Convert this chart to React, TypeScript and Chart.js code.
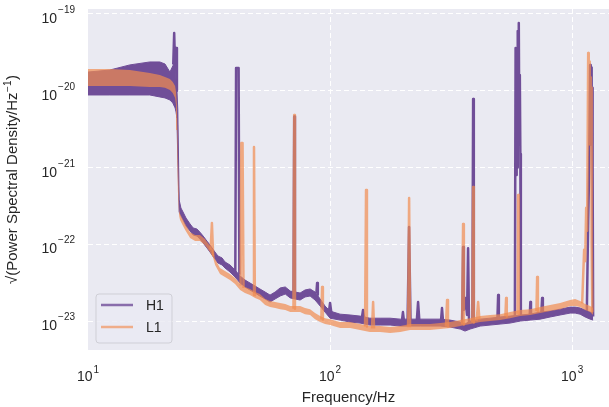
import { useEffect, useRef } from "react";
import { Chart, registerables } from "chart.js";

Chart.register(...registerables);

// ---------- data (Hz, strain/sqrt(Hz)) ----------
const H1_BAND_FREQ = [10, 12.3, 14.9, 18.0, 19.8, 20.8, 21.8, 22.4, 22.9, 23.1, 23.3, 23.5, 23.8, 24.2, 24.7, 25.4, 26.4, 27.2, 28.2, 29.0, 29.9, 31.0, 31.9, 33.2, 34.4, 35.8, 36.8, 38.6, 40.5, 42.5, 44.5, 46.7, 49.0, 51.3, 53.9, 56.5, 59.3, 62.2, 65.3, 68.5, 75.2, 78.8, 82.7, 86.7, 91.0, 95.3, 100, 110, 121, 133, 146, 161, 177, 195, 214, 236, 259, 285, 313, 345, 361, 379, 417, 458, 504, 554, 610, 671, 738, 811, 892, 981, 1029, 1079, 1132, 1187, 1221];
const H1_BAND_UPPER = [1.75e-20, 1.86e-20, 2.17e-20, 2.37e-20, 2.37e-20, 2.23e-20, 1.75e-20, 2.10e-20, 2.37e-20, 1.38e-20, 1.02e-20, 5.62e-21, 3.78e-22, 2.97e-22, 2.63e-22, 2.20e-22, 1.84e-22, 1.63e-22, 1.58e-22, 1.44e-22, 1.28e-22, 1.10e-22, 9.82e-23, 8.20e-23, 7.05e-23, 6.64e-23, 5.89e-23, 5.38e-23, 4.63e-23, 3.86e-23, 3.43e-23, 3.13e-23, 2.86e-23, 2.62e-23, 2.39e-23, 2.18e-23, 2.39e-23, 2.70e-23, 2.78e-23, 2.46e-23, 2.32e-23, 2.54e-23, 2.62e-23, 2.39e-23, 1.94e-23, 1.57e-23, 1.35e-23, 1.23e-23, 1.20e-23, 1.16e-23, 1.09e-23, 1.09e-23, 1.09e-23, 1.06e-23, 1.06e-23, 1.06e-23, 1.06e-23, 1.06e-23, 1.03e-23, 9.70e-24, 9.14e-24, 1.00e-23, 1.06e-23, 1.09e-23, 1.13e-23, 1.16e-23, 1.20e-23, 1.23e-23, 1.31e-23, 1.35e-23, 1.43e-23, 1.52e-23, 1.52e-23, 1.48e-23, 1.39e-23, 1.31e-23, 1.27e-23];
const H1_BAND_LOWER = [8.81e-21, 8.81e-21, 8.81e-21, 8.81e-21, 8.30e-21, 8.06e-21, 7.58e-21, 6.93e-21, 5.97e-21, 5.30e-21, 4.42e-21, 1.25e-21, 2.63e-22, 2.34e-22, 2.07e-22, 1.73e-22, 1.49e-22, 1.32e-22, 1.28e-22, 1.17e-22, 1.04e-22, 8.97e-23, 7.95e-23, 6.64e-23, 5.71e-23, 5.38e-23, 4.91e-23, 4.36e-23, 3.75e-23, 3.13e-23, 2.78e-23, 2.54e-23, 2.32e-23, 2.12e-23, 1.94e-23, 1.77e-23, 1.94e-23, 2.12e-23, 2.25e-23, 2.00e-23, 1.88e-23, 2.06e-23, 2.12e-23, 1.88e-23, 1.57e-23, 1.31e-23, 1.09e-23, 1.03e-23, 9.70e-24, 9.42e-24, 8.87e-24, 8.87e-24, 8.87e-24, 8.61e-24, 8.61e-24, 8.61e-24, 8.61e-24, 8.61e-24, 8.36e-24, 7.87e-24, 7.41e-24, 7.87e-24, 8.61e-24, 8.87e-24, 9.14e-24, 9.42e-24, 1.00e-23, 1.03e-23, 1.06e-23, 1.13e-23, 1.20e-23, 1.27e-23, 1.27e-23, 1.23e-23, 1.13e-23, 1.06e-23, 1.03e-23];

const L1_BAND_FREQ = [10, 12.3, 14.9, 18.0, 19.8, 20.8, 21.8, 22.4, 22.9, 23.1, 23.3, 23.5, 23.8, 24.0, 24.7, 25.2, 26.4, 27.7, 29.0, 30.4, 31.9, 32.8, 33.5, 35.1, 36.8, 38.6, 40.5, 42.5, 44.5, 46.7, 49.0, 51.3, 53.9, 56.5, 59.3, 62.2, 65.3, 68.5, 75.2, 78.8, 82.7, 86.7, 91.0, 95.3, 100, 110, 121, 133, 146, 161, 177, 195, 214, 236, 259, 285, 313, 345, 379, 417, 458, 504, 554, 610, 671, 738, 811, 892, 981, 1029, 1079, 1132, 1187, 1221];
const L1_BAND_UPPER = [1.92e-20, 1.92e-20, 1.86e-20, 1.70e-20, 1.60e-20, 1.51e-20, 1.42e-20, 1.30e-20, 1.15e-20, 9.64e-21, 6.53e-21, 1.69e-21, 2.80e-22, 2.48e-22, 2.07e-22, 1.84e-22, 1.44e-22, 1.32e-22, 1.32e-22, 1.17e-22, 9.53e-23, 8.45e-23, 6.44e-23, 4.91e-23, 4.49e-23, 4.10e-23, 3.64e-23, 3.04e-23, 2.78e-23, 2.62e-23, 2.39e-23, 2.25e-23, 1.94e-23, 1.82e-23, 1.77e-23, 1.72e-23, 1.67e-23, 1.57e-23, 1.57e-23, 1.48e-23, 1.43e-23, 1.27e-23, 1.16e-23, 1.09e-23, 1.06e-23, 9.70e-24, 9.70e-24, 9.14e-24, 8.61e-24, 8.61e-24, 8.36e-24, 8.61e-24, 9.14e-24, 9.14e-24, 9.14e-24, 9.42e-24, 9.70e-24, 1.03e-23, 1.09e-23, 1.16e-23, 1.20e-23, 1.23e-23, 1.31e-23, 1.39e-23, 1.43e-23, 1.52e-23, 1.62e-23, 1.72e-23, 1.88e-23, 1.94e-23, 1.82e-23, 1.67e-23, 1.57e-23, 1.48e-23];
const L1_BAND_LOWER = [1.15e-20, 1.15e-20, 1.15e-20, 1.12e-20, 1.12e-20, 1.09e-20, 1.02e-20, 9.35e-21, 8.06e-21, 6.53e-21, 3.09e-21, 5.09e-22, 2.34e-22, 2.07e-22, 1.73e-22, 1.53e-22, 1.21e-22, 1.10e-22, 1.10e-22, 9.82e-23, 7.95e-23, 6.84e-23, 5.38e-23, 4.10e-23, 3.75e-23, 3.43e-23, 3.04e-23, 2.54e-23, 2.32e-23, 2.18e-23, 2.00e-23, 1.88e-23, 1.62e-23, 1.52e-23, 1.48e-23, 1.43e-23, 1.39e-23, 1.31e-23, 1.31e-23, 1.23e-23, 1.20e-23, 1.06e-23, 9.70e-24, 9.14e-24, 8.87e-24, 8.11e-24, 8.11e-24, 7.64e-24, 7.19e-24, 7.19e-24, 6.97e-24, 7.19e-24, 7.64e-24, 7.64e-24, 7.64e-24, 7.87e-24, 8.11e-24, 8.61e-24, 9.14e-24, 9.70e-24, 1.00e-23, 1.03e-23, 1.09e-23, 1.16e-23, 1.20e-23, 1.27e-23, 1.35e-23, 1.43e-23, 1.57e-23, 1.57e-23, 1.52e-23, 1.39e-23, 1.31e-23, 1.20e-23];

// spectral lines (null = break between lines)
const H1_LINE_FREQ = [
  22.5, 22.7, 22.9, 23.1, 23.3, null,
  40.6, 40.9, 41.9, 42.2, null,
  70.6, 71.1, 71.6, null,
  87.8, 88.4, 89.0, null,
  98.5, 100, 101.5, null,
  135, 136.8, 138.5, null,
  198, 200, 202, null,
  209, 212, 215, null,
  228, 231, 234, null,
  287, 290, 293, null,
  351, 354.4, 357, 362, 368, 371.7, 375, null,
  387, 389.9, 392.5, null,
  491, 494.7, 498, null,
  580, 584, 587, 590, 593, 596, 599, 602, 605, 608, 611, 614, null,
  668, 672, 676, null,
  746, 751.6, 757, null,
  1150, 1165, 1176, 1187, 1193, 1198, 1204, 1209, 1215, 1221,
];
const H1_LINE_ASD = [
  2.2e-20, 5.65e-20, 2.0e-20, 3.6e-20, 1.0e-20, null,
  4.4e-23, 1.98e-20, 1.98e-20, 4.0e-23, null,
  2.2e-23, 4.6e-21, 2.2e-23, null,
  2.3e-23, 3.13e-23, 2.2e-23, null,
  1.2e-23, 1.72e-23, 1.2e-23, null,
  1.05e-23, 1.39e-23, 1.05e-23, null,
  1.0e-23, 1.31e-23, 1.0e-23, null,
  9.8e-24, 1.68e-22, 9.8e-24, null,
  9.8e-24, 1.77e-23, 9.8e-24, null,
  9.8e-24, 1.48e-23, 9.8e-24, null,
  9.0e-24, 9.2e-23, 1.4e-23, 2.0e-23, 1.2e-23, 8.9e-23, 9.5e-24, null,
  9.5e-24, 7.81e-21, 9.8e-24, null,
  1.0e-23, 2.18e-23, 1.0e-23, null,
  1.1e-23, 3.6e-20, 8.0e-22, 3.6e-20, 1.0e-21, 6.0e-20, 2.0e-21, 7.63e-20, 3.0e-21, 1.6e-20, 1.5e-21, 1.1e-23, null,
  1.15e-23, 1.77e-23, 1.15e-23, null,
  1.25e-23, 2.0e-23, 1.25e-23, null,
  1.3e-23, 2.0e-22, 1.0e-21, 2.17e-20, 2.0e-21, 2.0e-20, 3.0e-21, 1.09e-20, 1.0e-21, 1.15e-23,
];

const L1_LINE_FREQ = [
  32.1, 32.5, 32.9, null,
  42.7, 43.0, 43.5, 43.9, null,
  48.1, 48.5, 48.9, null,
  70.6, 71.1, 71.6, null,
  92.0, 92.7, 93.4, null,
  139.5, 140.8, 142, null,
  149, 150.6, 152, null,
  210, 212.1, 214, null,
  301, 304.4, 307, null,
  351, 354.4, 357, null,
  387, 389.9, 392.5, null,
  403, 408.9, 414, null,
  530, 533.7, 537, null,
  595, 598.3, 601.5, null,
  712, 717, 722, null,
  1100, 1121, 1132, 1143, 1153, 1165, 1171, 1176, 1182, 1187, 1193, 1198, 1204, 1212,
];
const L1_LINE_ASD = [
  8.5e-23, 1.89e-22, 7.0e-23, null,
  2.9e-23, 2.09e-21, 2.09e-21, 2.7e-23, null,
  2.2e-23, 1.85e-21, 2.1e-23, null,
  1.45e-23, 4.83e-21, 1.45e-23, null,
  1.05e-23, 2.77e-23, 1.05e-23, null,
  8.5e-24, 5.09e-22, 8.5e-24, null,
  8.0e-24, 1.77e-23, 8.0e-24, null,
  8.3e-24, 4.01e-22, 8.3e-24, null,
  8.5e-24, 1.88e-23, 8.5e-24, null,
  9.0e-24, 1.84e-22, 9.0e-24, null,
  9.6e-24, 5.57e-22, 9.6e-24, null,
  1.0e-23, 1.77e-23, 1.05e-23, null,
  1.15e-23, 2.0e-23, 1.15e-23, null,
  1.25e-23, 4.38e-22, 1.25e-23, null,
  1.35e-23, 3.74e-23, 1.35e-23, null,
  1.7e-23, 8.5e-23, 6.0e-23, 3.0e-22, 1.5e-22, 3.1e-20, 2.0e-21, 2.4e-20, 3.0e-21, 1.5e-20, 2.0e-21, 1.1e-20, 1.0e-22, 1.3e-23,
];

const X_TICKS = [10, 100, 1000];
const X_TICK_EXP = ["1", "2", "3"];
const Y_TICKS = [1e-19, 1e-20, 1e-21, 1e-22, 1e-23];
const Y_TICK_EXP = ["\u221219", "\u221220", "\u221221", "\u221222", "\u221223"];
const SERIES_LABELS = ["H1", "L1"];
const X_TITLE = "Frequency/Hz";
const Y_TITLE = ["\u221A(Power Spectral Density/Hz", "\u22121", ")"];

// ---------- style ----------
const FONT = '"Liberation Sans", Arial, Helvetica, sans-serif';
const TEXT = "#262626";
const PLOT_BG = "#EAEAF2";
const H1_COLOR = "rgb(112,78,152)";
const L1_COLOR = "rgba(241,140,80,0.7)";
const H1_LEGEND = "rgba(112,78,152,0.8)";
const L1_LEGEND = "rgba(241,140,80,0.65)";

const X_MIN = 10;
const X_MAX = 1420;
const Y_MIN = 4.2e-24;
const Y_MAX = 1.16e-19;

function toPoints(freq: (number | null)[], asd: (number | null)[]) {
  let prev = (freq[0] as number) || 10;
  return freq.map((f, i) => {
    const x = f == null ? prev : f;
    prev = x;
    return { x, y: asd[i] };
  });
}

const decorPlugin = {
  id: "decor",
  beforeDraw(chart: any) {
    const { ctx, chartArea: a } = chart;
    ctx.save();
    ctx.fillStyle = PLOT_BG;
    ctx.fillRect(a.left, a.top, a.right - a.left, a.bottom - a.top);
    ctx.restore();
  },
  afterDraw(chart: any) {
    const { ctx, chartArea: a } = chart;
    const xs = chart.scales.x;
    const ys = chart.scales.y;
    const big = `14px ${FONT}`;
    const small = `10px ${FONT}`;
    ctx.save();
    ctx.fillStyle = TEXT;
    ctx.textAlign = "left";
    ctx.textBaseline = "alphabetic";

    // x tick labels
    X_TICKS.forEach((v, i) => {
      const px = xs.getPixelForValue(v);
      ctx.font = big;
      const w1 = ctx.measureText("10").width;
      ctx.font = small;
      const w2 = ctx.measureText(X_TICK_EXP[i]).width;
      const start = px - (w1 + 1 + w2) / 2;
      ctx.font = big;
      ctx.fillText("10", start, a.bottom + 31);
      ctx.font = small;
      ctx.fillText(X_TICK_EXP[i], start + w1 + 1, a.bottom + 23);
    });

    // y tick labels
    Y_TICKS.forEach((v, i) => {
      const py = ys.getPixelForValue(v);
      ctx.font = big;
      const w1 = ctx.measureText("10").width;
      ctx.font = small;
      const w2 = ctx.measureText(Y_TICK_EXP[i]).width;
      const end = a.left - 13;
      ctx.font = small;
      ctx.fillText(Y_TICK_EXP[i], end - w2, py - 1);
      ctx.font = big;
      ctx.fillText("10", end - w2 - 1 - w1, py + 9);
    });

    // x title
    ctx.font = `15px ${FONT}`;
    ctx.textAlign = "center";
    ctx.fillText(X_TITLE, (a.left + a.right) / 2, 402);

    // y title (rotated)
    ctx.save();
    ctx.translate(13, (a.top + a.bottom) / 2);
    ctx.rotate(-Math.PI / 2);
    ctx.textAlign = "left";
    ctx.textBaseline = "middle";
    ctx.font = `15px ${FONT}`;
    const t1 = ctx.measureText(Y_TITLE[0]).width;
    const t3 = ctx.measureText(Y_TITLE[2]).width;
    ctx.font = `10px ${FONT}`;
    const t2 = ctx.measureText(Y_TITLE[1]).width;
    const s = -(t1 + t2 + t3 + 1) / 2;
    ctx.font = `15px ${FONT}`;
    ctx.fillText(Y_TITLE[0], s, 0);
    ctx.font = `10px ${FONT}`;
    ctx.fillText(Y_TITLE[1], s + t1 + 0.5, -5);
    ctx.font = `15px ${FONT}`;
    ctx.fillText(Y_TITLE[2], s + t1 + t2 + 1, 0);
    ctx.restore();

    // legend
    const bx = 96, by = 294, bw = 76, bh = 49, r = 3;
    ctx.beginPath();
    ctx.moveTo(bx + r, by);
    ctx.lineTo(bx + bw - r, by);
    ctx.quadraticCurveTo(bx + bw, by, bx + bw, by + r);
    ctx.lineTo(bx + bw, by + bh - r);
    ctx.quadraticCurveTo(bx + bw, by + bh, bx + bw - r, by + bh);
    ctx.lineTo(bx + r, by + bh);
    ctx.quadraticCurveTo(bx, by + bh, bx, by + bh - r);
    ctx.lineTo(bx, by + r);
    ctx.quadraticCurveTo(bx, by, bx + r, by);
    ctx.closePath();
    ctx.fillStyle = "rgba(234,234,242,0.8)";
    ctx.fill();
    ctx.strokeStyle = "#cfcfd6";
    ctx.lineWidth = 1;
    ctx.stroke();

    const entries = [
      { label: SERIES_LABELS[0], color: H1_LEGEND, y: 305 },
      { label: SERIES_LABELS[1], color: L1_LEGEND, y: 327 },
    ];
    entries.forEach((e) => {
      ctx.beginPath();
      ctx.moveTo(101, e.y);
      ctx.lineTo(133, e.y);
      ctx.strokeStyle = e.color;
      ctx.lineWidth = 2.5;
      ctx.stroke();
      ctx.fillStyle = TEXT;
      ctx.font = `14px ${FONT}`;
      ctx.textAlign = "left";
      ctx.textBaseline = "alphabetic";
      ctx.fillText(e.label, 146, e.y + 5);
    });
    ctx.restore();
  },
};

export default function App() {
  const ref = useRef<HTMLCanvasElement>(null);

  useEffect(() => {
    if (!ref.current) return;
    const band = (freq: number[], vals: number[], color: string, fill: any, border: string) => ({
      data: toPoints(freq, vals),
      borderColor: border,
      backgroundColor: color,
      borderWidth: 1,
      fill,
      pointRadius: 0,
      tension: 0,
    });
    // Chart.js paints the first dataset last (on top), so L1 comes first.
    const chart = new Chart(ref.current, {
      type: "line",
      data: {
        datasets: [
          band(L1_BAND_FREQ, L1_BAND_UPPER, L1_COLOR, "+1", "rgba(0,0,0,0)"),
          band(L1_BAND_FREQ, L1_BAND_LOWER, L1_COLOR, false, "rgba(0,0,0,0)"),
          {
            label: SERIES_LABELS[1],
            data: toPoints(L1_LINE_FREQ, L1_LINE_ASD),
            borderColor: L1_COLOR,
            borderWidth: 2.5,
            borderJoinStyle: "round",
            fill: false,
            pointRadius: 0,
            spanGaps: false,
          },
          band(H1_BAND_FREQ, H1_BAND_UPPER, H1_COLOR, "+1", H1_COLOR),
          band(H1_BAND_FREQ, H1_BAND_LOWER, H1_COLOR, false, H1_COLOR),
          {
            label: SERIES_LABELS[0],
            data: toPoints(H1_LINE_FREQ, H1_LINE_ASD),
            borderColor: H1_COLOR,
            borderWidth: 2.5,
            borderJoinStyle: "round",
            fill: false,
            pointRadius: 0,
            spanGaps: false,
          },
        ] as any,
      },
      options: {
        responsive: false,
        animation: false,
        devicePixelRatio: 1,
        layout: { padding: { left: 88, top: 9, right: 0, bottom: 57 } },
        plugins: {
          legend: { display: false },
          tooltip: { enabled: false },
        },
        elements: { point: { radius: 0 }, line: { tension: 0 } },
        scales: {
          x: {
            type: "logarithmic",
            min: X_MIN,
            max: X_MAX,
            afterBuildTicks: (s: any) => {
              s.ticks = X_TICKS.map((v) => ({ value: v }));
            },
            afterFit: (s: any) => {
              s.height = 0;
            },
            ticks: { display: false },
            grid: {
              color: (c: any) => (c.tick && c.tick.value === X_MIN ? "rgba(0,0,0,0)" : "#ffffff"),
              lineWidth: 1,
              drawTicks: false,
            },
            border: { display: false, dash: [5, 3] },
          },
          y: {
            type: "logarithmic",
            min: Y_MIN,
            max: Y_MAX,
            afterBuildTicks: (s: any) => {
              s.ticks = Y_TICKS.map((v) => ({ value: v }));
            },
            afterFit: (s: any) => {
              s.width = 0;
            },
            ticks: { display: false },
            grid: { color: "#ffffff", lineWidth: 1, drawTicks: false },
            border: { display: false, dash: [5, 3] },
          },
        },
      } as any,
      plugins: [decorPlugin],
    });
    return () => chart.destroy();
  }, []);

  return (
    <div style={{ position: "fixed", left: 0, top: 0, width: 609, height: 407, background: "#ffffff" }}>
      <canvas ref={ref} width={609} height={407} style={{ display: "block" }} />
    </div>
  );
}
